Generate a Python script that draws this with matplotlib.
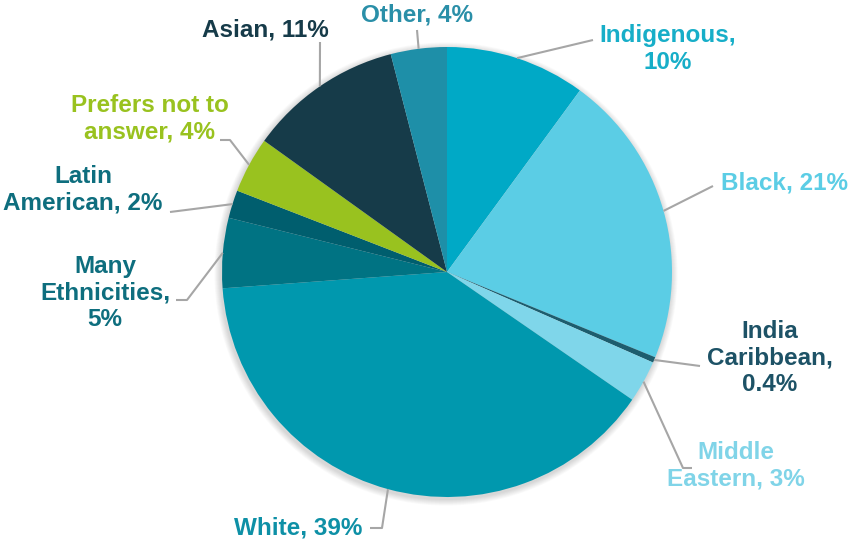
import numpy as np
import matplotlib
matplotlib.use("Agg")
import matplotlib.pyplot as plt
from matplotlib.patches import Circle

# ---- data ----
categories = ["Indigenous", "Black", "India Caribbean", "Middle Eastern", "White",
              "Many Ethnicities", "Latin American", "Prefers not to answer", "Asian", "Other"]
values = [10, 21, 0.4, 3, 39, 5, 2, 4, 11, 4]
label_texts = ["Indigenous,\n10%", "Black, 21%", "India\nCaribbean,\n0.4%", "Middle\nEastern, 3%",
               "White, 39%", "Many\nEthnicities,\n5%", "Latin\nAmerican, 2%",
               "Prefers not to\nanswer, 4%", "Asian, 11%", "Other, 4%"]

# ---- styles / layout ----
slice_colors = ["#00A9C6", "#5BCDE5", "#1D5D6E", "#7FD6EA", "#0098AE",
                "#007383", "#005E6E", "#99C21F", "#163B49", "#1E8FA8"]
text_colors = ["#17AEC8", "#5BCDE5", "#1D5266", "#80D4E8", "#0E90A6",
               "#0E6E7E", "#0E6E7E", "#99C21F", "#163B49", "#2A8FA8"]
W, H = 850, 544
cx, cy, R = 447, 272, 225  # image pixel coordinates
# text centres (image px) and leader-line waypoints (image px)
text_pos = [(668, 49), (785, 183), (770, 358), (736, 466), (298, 528),
            (105, 293), (83, 190), (150, 119), (265, 30), (417, 15)]
leader_pts = [[(593, 40)], [(713, 186)], [(700, 366)], [(683, 468), (692, 468)],
              [(382, 528), (370, 528)], [(187, 300), (176, 300)], [(170, 212)],
              [(230, 140), (220, 140)], [(320, 42)], [(417, 30)]]

plt.rcParams['font.family'] = ['Liberation Sans', 'DejaVu Sans']
fig = plt.figure(figsize=(W / 100, H / 100), dpi=100)
ax = fig.add_axes([0, 0, 1, 1])

def fy(y):
    return H - y

# soft shadow
for k in range(8):
    ax.add_patch(Circle((cx - 1, fy(cy) - 2), R + 1 + k * 0.8, color='#000000',
                        alpha=0.018, lw=0, zorder=0))

wedges, _ = ax.pie(values, radius=R, center=(cx, fy(cy)), startangle=90,
                   counterclock=False, colors=slice_colors,
                   wedgeprops=dict(linewidth=0), frame=True)
ax.set_xlim(0, W)
ax.set_ylim(0, H)
ax.set_aspect('equal')
ax.axis('off')

for w, txt, tc, tp, pts in zip(wedges, label_texts, text_colors, text_pos, leader_pts):
    ang = np.deg2rad((w.theta1 + w.theta2) / 2)
    sx = cx + R * np.cos(ang)
    sy = fy(cy) + R * np.sin(ang)
    xs = [sx] + [p[0] for p in pts]
    ys = [sy] + [fy(p[1]) for p in pts]
    ax.plot(xs, ys, color='#A6A6A6', lw=1.5, solid_capstyle='butt', zorder=3)
    ax.text(tp[0], fy(tp[1]), txt, color=tc, fontsize=17.5, fontweight='bold',
            ha='center', va='center', ma='center', linespacing=1.18, zorder=4)

fig.savefig("out.png", dpi=100, facecolor='white')
